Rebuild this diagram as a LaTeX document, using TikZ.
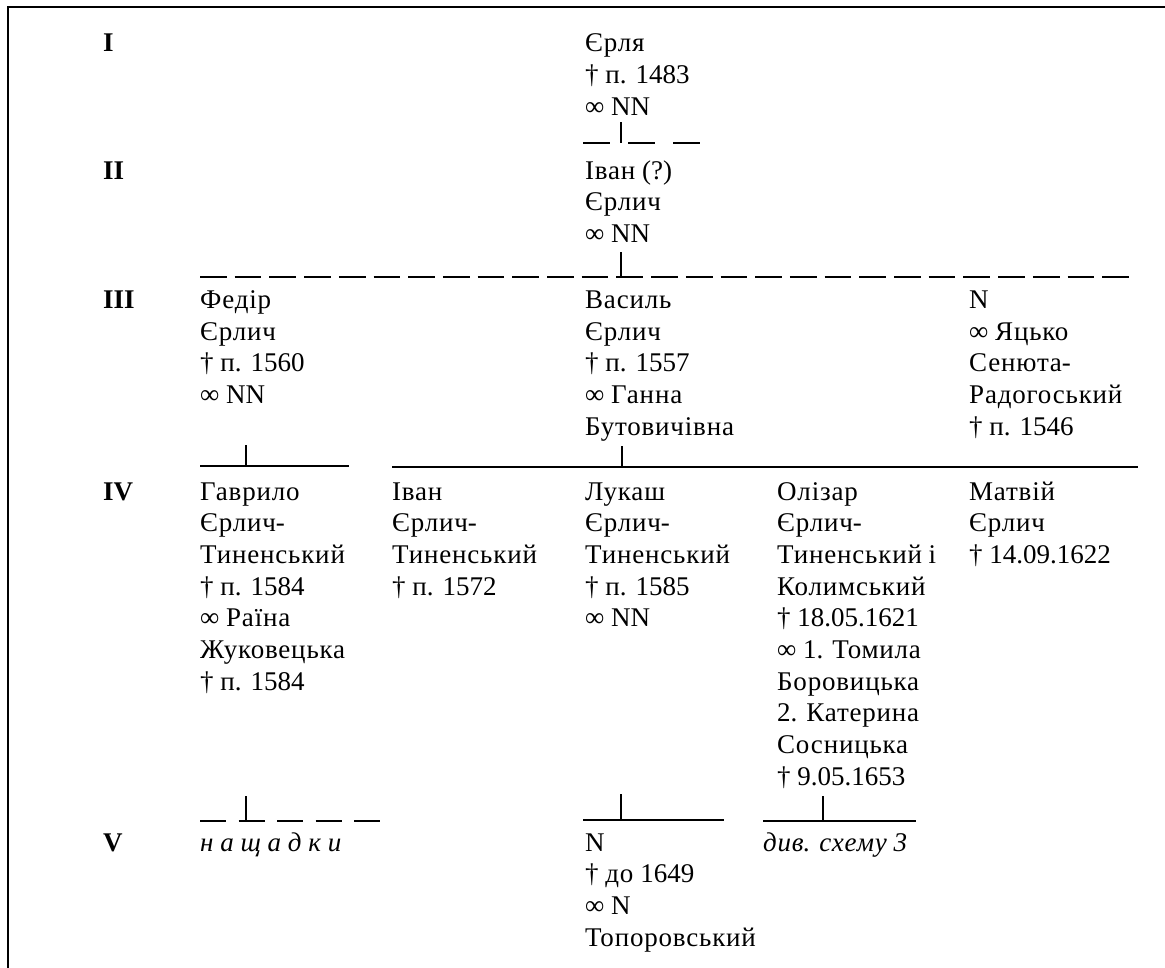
\documentclass[tikz,border=0pt]{standalone}
\usepackage{fontspec}
\setmainfont{Liberation Serif}
\newfontfamily\cyrf[LetterSpace=3]{Liberation Serif}
\XeTeXinterchartokenstate=1
\newXeTeXintercharclass\CyrCls
\newcount\cyrcc \cyrcc="0400
\loop \XeTeXcharclass\cyrcc=\CyrCls \ifnum\cyrcc<"04FF \advance\cyrcc by 1 \repeat
\XeTeXinterchartoks 0 \CyrCls = {\cyrf}
\XeTeXinterchartoks 4095 \CyrCls = {\cyrf}
\XeTeXinterchartoks \CyrCls 0 = {\rmfamily}
\XeTeXinterchartoks \CyrCls 4095 = {\rmfamily}
\newcommand\LL[1]{\hbox{#1}}
\newcommand\STK[1]{\vtop{\baselineskip=31.7pt\lineskiplimit=-100pt #1}}
\tikzset{
  person/.style={anchor=base west, inner sep=0pt, font=\fontsize{27}{31.7}\selectfont},
  gen/.style={anchor=base west, inner sep=0pt, font=\fontsize{27}{31.7}\selectfont\bfseries},
  frameline/.style={line width=1.5pt},
  heavydash/.style={line width=2.8pt},
  bar/.style={line width=1.3pt},
  tick/.style={line width=1.2pt}
}
\begin{document}
\begin{tikzpicture}[x=1pt,y=-1pt]
\useasboundingbox (0,0) rectangle (1165,967);
% frame
\coordinate (fTL) at (8,7);
\coordinate (fTR) at (1166,7);
\coordinate (fBL) at (8,968);
\draw[frameline] (fBL) -- (fTL) -- (fTR);
% generation labels
\node[gen] (gI) at (103,51.6) {I};
\node[gen] (gII) at (103,179) {II};
\node[gen] (gIII) at (103,308.5) {III};
\node[gen] (gIV) at (103,500) {IV};
\node[gen] (gV) at (103,851) {V};
% Row I
\node[person] (e1) at (585,51.6) {\STK{\LL{Єрля}\LL{† п. 1483}\LL{∞ NN}}};
\coordinate (t1a) at (621,122);
\coordinate (t1b) at (621,143);
\coordinate (d1a) at (583,143);
\coordinate (d1b) at (700,143);
\draw[tick] (t1a) -- (t1b);
\draw[heavydash, dash pattern=on 27pt off 18pt] (d1a) -- (d1b);
% Row II
\node[person] (i2) at (585,179) {\STK{\LL{Іван (?)}\LL{Єрлич}\LL{∞ NN}}};
\coordinate (t2a) at (621,252);
\coordinate (t2b) at (621,277);
\coordinate (d2a) at (200,277);
\coordinate (d2b) at (1131,277);
\draw[tick] (t2a) -- (t2b);
\draw[heavydash, dash pattern=on 26.7pt off 8pt] (d2a) -- (d2b);
% Row III
\node[person] (f3) at (200,308.5) {\STK{\LL{Федір}\LL{Єрлич}\LL{† п. 1560}\LL{∞ NN}}};
\node[person] (v3) at (585,308.5) {\STK{\LL{Василь}\LL{Єрлич}\LL{† п. 1557}\LL{∞ Ганна}\LL{Бутовичівна}}};
\node[person] (n3) at (969,308.5) {\STK{\LL{N}\LL{∞ Яцько}\LL{Сенюта-}\LL{Радогоський}\LL{† п. 1546}}};
\coordinate (t3a) at (246,445);
\coordinate (t3b) at (246,466);
\coordinate (b3a) at (200,466);
\coordinate (b3b) at (349,466);
\draw[tick] (t3a) -- (t3b);
\draw[bar] (b3a) -- (b3b);
\coordinate (t3c) at (622,446);
\coordinate (t3d) at (622,467);
\coordinate (b3c) at (392,467);
\coordinate (b3d) at (1138,467);
\draw[tick] (t3c) -- (t3d);
\draw[bar] (b3c) -- (b3d);
% Row IV
\node[person] (g4) at (200,500) {\STK{\LL{Гаврило}\LL{Єрлич-}\LL{Тиненський}\LL{† п. 1584}\LL{∞ Раїна}\LL{Жуковецька}\LL{† п. 1584}}};
\node[person] (iv4) at (392,500) {\STK{\LL{Іван}\LL{Єрлич-}\LL{Тиненський}\LL{† п. 1572}}};
\node[person] (l4) at (585,500) {\STK{\LL{Лукаш}\LL{Єрлич-}\LL{Тиненський}\LL{† п. 1585}\LL{∞ NN}}};
\node[person] (o4) at (777,500) {\STK{\LL{Олізар}\LL{Єрлич-}\LL{Тиненський і}\LL{Колимський}\LL{† 18.05.1621}\LL{∞ 1. Томила}\LL{Боровицька}\LL{2. Катерина}\LL{Сосницька}\LL{† 9.05.1653}}};
\node[person] (m4) at (969,500) {\STK{\LL{Матвій}\LL{Єрлич}\LL{† 14.09.1622}}};
% Row V connectors
\coordinate (t5a) at (246,796);
\coordinate (t5b) at (246,821);
\coordinate (d5a) at (200,821);
\coordinate (d5b) at (380,821);
\draw[tick] (t5a) -- (t5b);
\draw[heavydash, dash pattern=on 26pt off 12.5pt] (d5a) -- (d5b);
\coordinate (t5c) at (621,794);
\coordinate (t5d) at (621,820);
\coordinate (b5a) at (583,820);
\coordinate (b5b) at (724,820);
\draw[tick] (t5c) -- (t5d);
\draw[bar] (b5a) -- (b5b);
\coordinate (t5e) at (823,796);
\coordinate (t5f) at (823,821);
\coordinate (b5c) at (763,821);
\coordinate (b5d) at (916,821);
\draw[tick] (t5e) -- (t5f);
\draw[bar] (b5c) -- (b5d);
% Row V
\node[person, font=\fontsize{27}{31.7}\selectfont\itshape] (d5) at (200,851) {н а щ а д к и};
\node[person] (n5) at (585,851) {\STK{\LL{N}\LL{† до 1649}\LL{∞ N}\LL{Топоровський}}};
\node[person, font=\fontsize{27}{31.7}\selectfont\itshape] (s5) at (763,851) {див. схему 3};
\end{tikzpicture}
\end{document}
